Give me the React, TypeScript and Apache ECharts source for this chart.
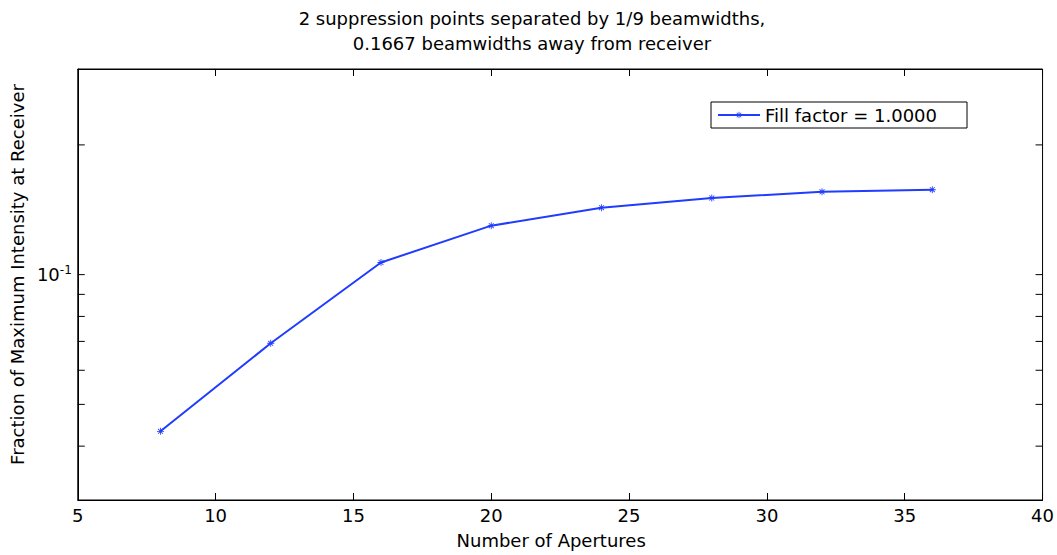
import React, { useEffect, useRef } from "react";
import * as echarts from "echarts";

const titleLines = [
  "2 suppression points separated by 1/9 beamwidths,",
  "0.1667 beamwidths away from receiver",
];
const apertures = [8, 12, 16, 20, 24, 28, 32, 36];
const intensity = [0.0433, 0.0693, 0.1067, 0.1299, 0.143, 0.1506, 0.1557, 0.1574];
const seriesName = "Fill factor = 1.0000";
const xTicks = [5, 10, 15, 20, 25, 30, 35, 40];
const yTickValues = [0.04, 0.05, 0.06, 0.07, 0.08, 0.09, 0.1, 0.2];
const yMajorLabel = 0.1;

const FONT = "'DejaVu Sans', Arial, Helvetica, sans-serif";
const BLUE = "#1f3cff";
const ASTERISK =
  "path://M-0.6,-5L0.6,-5L0.6,5L-0.6,5Z M-5,-0.6L5,-0.6L5,0.6L-5,0.6Z M-3.9,-3.05L-3.05,-3.9L3.9,3.05L3.05,3.9Z M3.05,-3.9L3.9,-3.05L-3.05,3.9L-3.9,3.05Z";

export default function App() {
  const ref = useRef<HTMLDivElement>(null);
  useEffect(() => {
    if (!ref.current) return;
    const chart = echarts.init(ref.current, undefined, { renderer: "svg" });
    const xMin = xTicks[0];
    const xMax = xTicks[xTicks.length - 1];
    chart.setOption({
      animation: false,
      backgroundColor: "#ffffff",
      textStyle: { fontFamily: FONT },
      grid: {
        left: 76,
        right: 14,
        top: 69,
        bottom: 55,
        show: true,
        borderColor: "#000",
        borderWidth: 1,
        backgroundColor: "transparent",
      },
      graphic: titleLines.map((t, i) => ({
        type: "text",
        x: 532,
        y: 18 + i * 25,
        style: {
          text: t,
          fontSize: 18,
          fontFamily: FONT,
          fill: "#000",
          textAlign: "center",
          textVerticalAlign: "middle",
        },
      })),
      legend: {
        data: [seriesName],
        left: 711,
        top: 102,
        padding: [4, 30, 4, 6],
        borderColor: "#000",
        borderWidth: 1,
        borderRadius: 0,
        itemWidth: 42,
        itemHeight: 8,
        textStyle: { fontSize: 18, color: "#000", fontFamily: FONT },
      },
      xAxis: [
        {
          type: "value",
          min: xMin,
          max: xMax,
          interval: 5,
          name: "Number of Apertures",
          nameLocation: "middle",
          nameGap: 31,
          nameTextStyle: { fontSize: 18, color: "#000", fontFamily: FONT, padding: [0, 18, 0, 0] },
          axisLine: { show: true, lineStyle: { color: "#000", width: 1 } },
          axisTick: { show: true, inside: true, length: 7, lineStyle: { color: "#000" } },
          axisLabel: { fontSize: 18, color: "#000", margin: 6, fontFamily: FONT },
          splitLine: { show: false },
        },
        {
          type: "value",
          position: "top",
          min: xMin,
          max: xMax,
          interval: 5,
          axisLine: { show: true, lineStyle: { color: "#000", width: 1 } },
          axisTick: { show: true, inside: true, length: 7, lineStyle: { color: "#000" } },
          axisLabel: { show: false },
          splitLine: { show: false },
        },
      ],
      yAxis: {
        type: "log",
        logBase: 10,
        min: 0.03,
        max: 0.3,
        name: "Fraction of Maximum Intensity at Receiver",
        nameLocation: "middle",
        nameGap: 46,
        nameTextStyle: { fontSize: 18, color: "#000", fontFamily: FONT, padding: [0, 0, 0, 20] },
        axisLine: { show: true, lineStyle: { color: "#000", width: 1 } },
        axisTick: { show: false },
        splitLine: { show: false },
        minorTick: { show: false },
        axisLabel: {
          margin: 6,
          showMinLabel: false,
          showMaxLabel: false,
          formatter: (v: number) =>
            Math.abs(v - yMajorLabel) < 1e-9 ? "{b|10}{s|-1}" : "",
          rich: {
            b: { fontSize: 18, color: "#000", fontFamily: FONT },
            s: { fontSize: 12, color: "#000", fontFamily: FONT, verticalAlign: "top", padding: [0, 0, 10, 0] },
          },
        },
      },
      series: [
        {
          name: seriesName,
          type: "line",
          data: apertures.map((a, i) => [a, intensity[i]]),
          symbol: ASTERISK,
          symbolSize: 7,
          showAllSymbol: true,
          lineStyle: { color: BLUE, width: 2 },
          itemStyle: { color: BLUE, borderWidth: 0 },
          emphasis: { disabled: true },
          z: 3,
        },
        {
          name: "yticks",
          type: "custom",
          coordinateSystem: "cartesian2d",
          encode: { x: 0, y: 1 },
          data: yTickValues.map((v) => [xMin, v]),
          silent: true,
          renderItem: (_params: any, api: any) => {
            const yv = api.value(1);
            const l = api.coord([xMin, yv]);
            const r = api.coord([xMax, yv]);
            const len = 7;
            return {
              type: "group",
              children: [
                { type: "line", shape: { x1: l[0], y1: l[1], x2: l[0] + len, y2: l[1] }, style: { stroke: "#000", lineWidth: 1 } },
                { type: "line", shape: { x1: r[0] - len, y1: r[1], x2: r[0], y2: r[1] }, style: { stroke: "#000", lineWidth: 1 } },
              ],
            };
          },
          z: 2,
        },
      ],
    });
    return () => chart.dispose();
  }, []);
  return (
    <div
      ref={ref}
      style={{ position: "fixed", left: 0, top: 0, width: 1057, height: 555, background: "#fff" }}
    />
  );
}
